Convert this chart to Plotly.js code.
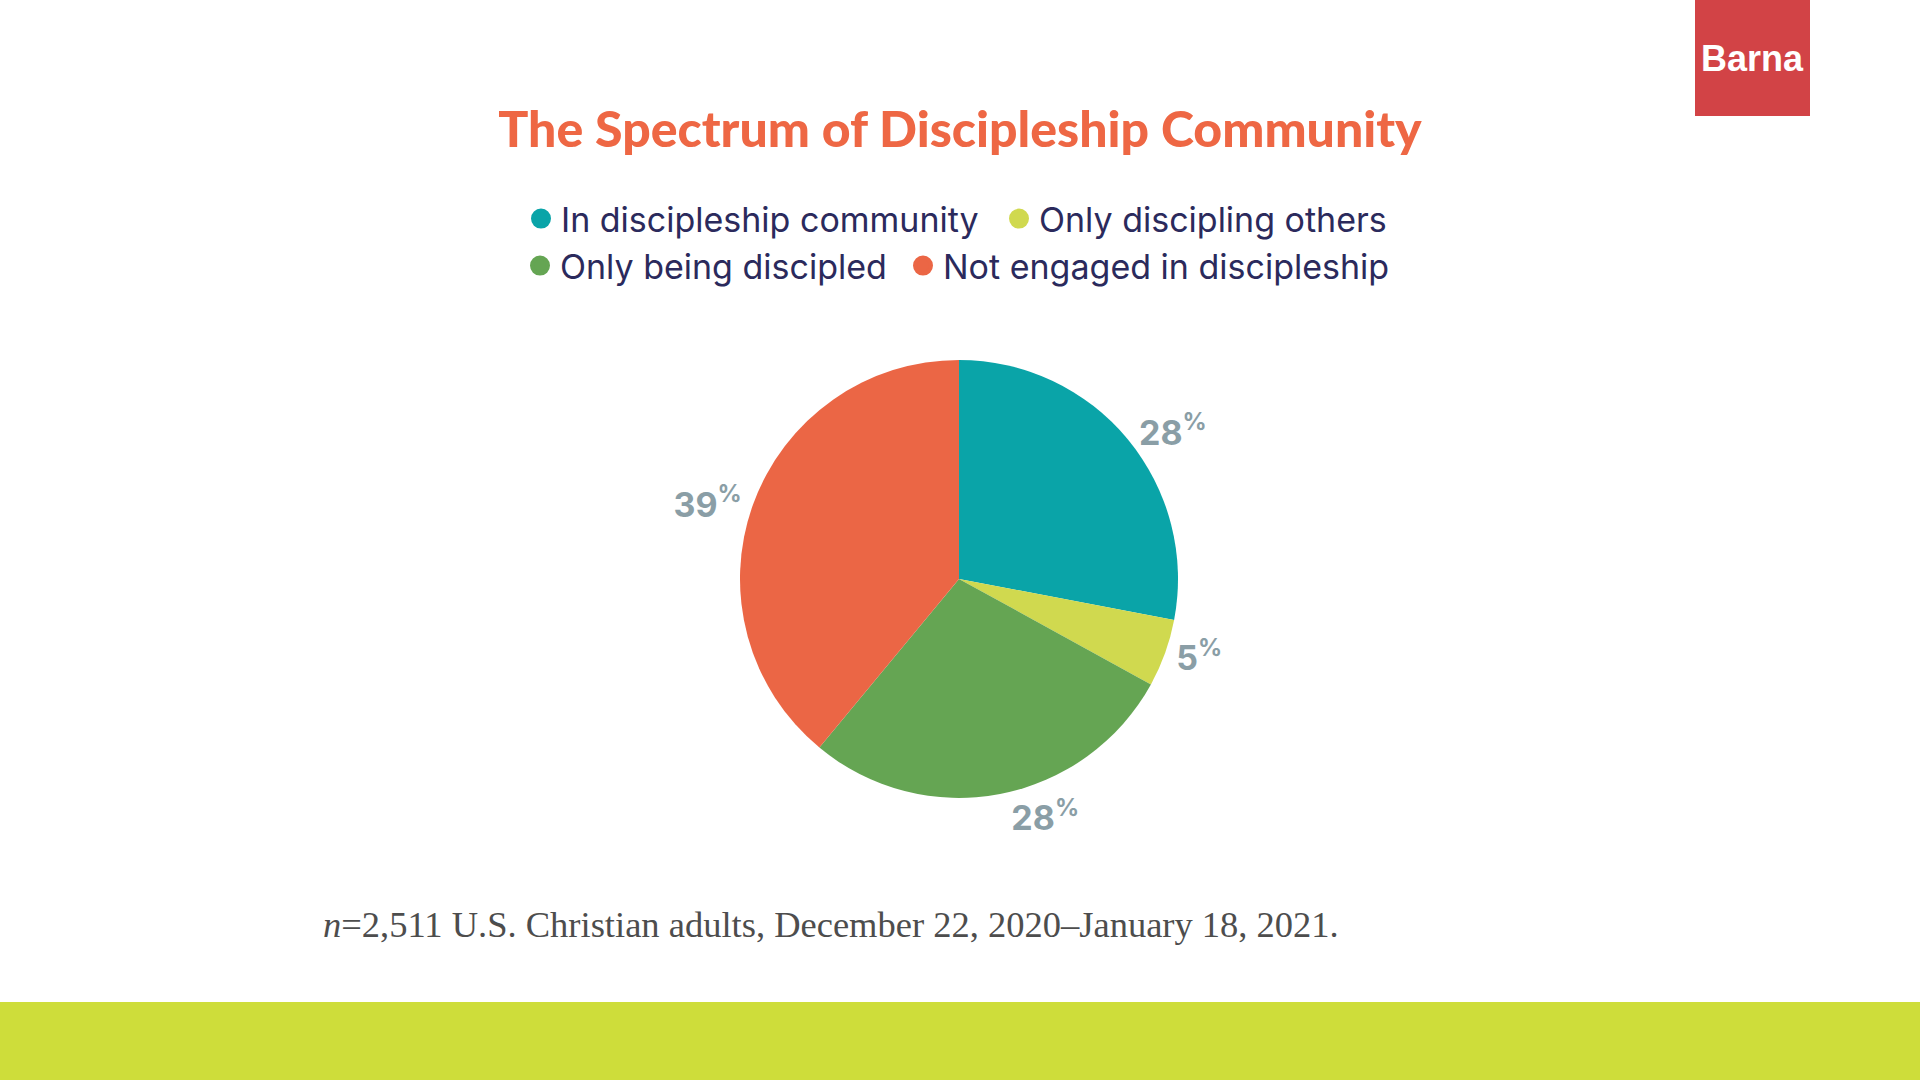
<!DOCTYPE html>
<html>
<head>
<meta charset="utf-8">
<script src="https://cdn.plot.ly/plotly-3.0.1.min.js"></script>
<style>
  html, body { margin: 0; padding: 0; background: #ffffff; }
  #chart { width: 1920px; height: 1080px; }
</style>
</head>
<body>
<div id="chart"></div>
<script>
// ---- data ----
const categories = ["In discipleship community", "Only discipling others", "Only being discipled", "Not engaged in discipleship"];
const values = [28, 5, 28, 39];
const colors = ["#0aa4a8", "#d0d94f", "#65a553", "#eb6645"];
const titleText = "The Spectrum of Discipleship Community";
const noteText = "<i>n</i>=2,511 U.S. Christian adults, December 22, 2020–January 18, 2021.";
const brandText = "Barna";

// ---- layout helpers (not data) ----
const legendRowOf = i => (i < 2 ? "legend" : "legend2");
const firstEntryWidth = { legend: 433, legend2: 338 };

// ---- traces ----
const pie = {
  type: "pie",
  labels: categories,
  values: values,
  marker: { colors: colors, line: { width: 0 } },
  sort: false,
  direction: "clockwise",
  rotation: 0,
  textposition: "outside",
  texttemplate: "%{value}<sup>%</sup>",
  outsidetextfont: { family: "Inter, 'Open Sans', sans-serif", size: 34, color: "#8a9ea6", weight: 700 },
  hoverinfo: "label+percent",
  showlegend: false,
  domain: { x: [0.280, 0.718], y: [0.261, 0.667] }
};

// legend entries (circle markers), two per legend row
const legendTraces = categories.map((c, i) => {
  const t = {
    type: "scatter",
    mode: "markers",
    x: [null], y: [null],
    name: c,
    legend: legendRowOf(i),
    marker: { color: colors[i], size: 16, symbol: "circle", line: { color: colors[i], width: 4 } },
    showlegend: true,
    hoverinfo: "skip"
  };
  if (i % 2 === 0) t.legendwidth = firstEntryWidth[legendRowOf(i)];
  return t;
});

const legendFont = { family: "Inter, 'Open Sans', sans-serif", size: 34, color: "#2b2a5c" };

const layout = {
  width: 1920,
  height: 1080,
  margin: { l: 460, r: 460, t: 0, b: 0, autoexpand: false },
  paper_bgcolor: "#ffffff",
  plot_bgcolor: "rgba(0,0,0,0)",
  xaxis: { visible: false, range: [0, 1], fixedrange: true },
  yaxis: { visible: false, range: [0, 1], fixedrange: true },
  title: {
    text: titleText,
    font: { family: "Lato, 'Open Sans', sans-serif", size: 50, color: "#ee6744", weight: 900 },
    x: 0.5, xref: "container", xanchor: "center",
    y: 1 - 129 / 1080, yref: "container", yanchor: "middle"
  },
  showlegend: true,
  legend: {
    orientation: "h",
    x: 0.061, xanchor: "left",
    y: 1 - 219 / 1080, yanchor: "middle",
    font: legendFont,
    itemsizing: "trace",
    bgcolor: "rgba(0,0,0,0)"
  },
  legend2: {
    orientation: "h",
    x: 0.060, xanchor: "left",
    y: 1 - 266 / 1080, yanchor: "middle",
    font: legendFont,
    itemsizing: "trace",
    bgcolor: "rgba(0,0,0,0)"
  },
  shapes: [
    { type: "rect", xref: "paper", yref: "paper", x0: -0.47, x1: 1.47, y0: 0, y1: 1 - 1002 / 1080,
      fillcolor: "#cedd3a", line: { width: 0 }, layer: "below" },
    { type: "rect", xref: "paper", yref: "paper", x0: (1695 - 460) / 1000, x1: (1810 - 460) / 1000, y0: 1 - 116 / 1080, y1: 1.01,
      fillcolor: "#d24346", line: { width: 0 }, layer: "below" }
  ],
  annotations: [
    { text: noteText, xref: "paper", yref: "paper", x: (321 - 460) / 1000, y: 1 - 924 / 1080,
      xanchor: "left", yanchor: "middle", showarrow: false,
      font: { family: "'Liberation Serif', 'DejaVu Serif', serif", size: 36.5, color: "#4d4d4d" } },
    { text: "<b>" + brandText + "</b>", xref: "paper", yref: "paper", x: (1752 - 460) / 1000, y: 1 - 59 / 1080,
      xanchor: "center", yanchor: "middle", showarrow: false,
      font: { family: "'Liberation Sans', Arial, sans-serif", size: 36, color: "#ffffff" } }
  ]
};

Plotly.newPlot("chart", [pie].concat(legendTraces), layout, { displayModeBar: false, staticPlot: true });
</script>
</body>
</html>
